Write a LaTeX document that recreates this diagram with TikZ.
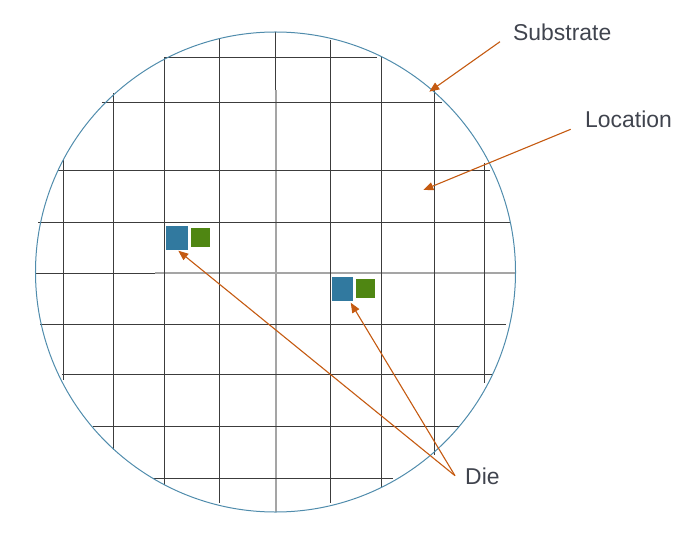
\documentclass[tikz,border=0pt]{standalone}
\usepackage{fontspec}
\setmainfont{Liberation Sans}
\usetikzlibrary{arrows.meta}
\definecolor{gridc}{RGB}{60,60,60}
\definecolor{centc}{RGB}{165,165,165}
\definecolor{waferc}{RGB}{80,140,172}
\definecolor{dieblue}{RGB}{49,121,159}
\definecolor{diegreen}{RGB}{79,134,18}
\definecolor{arrowc}{RGB}{197,90,17}
\definecolor{textc}{RGB}{64,68,78}
\tikzset{
  gridline/.style={draw=gridc, line width=1.6bp},
  centline/.style={draw=centc, line width=2bp},
  pointer/.style={draw=arrowc, line width=1.1bp, -{Triangle[length=10bp,width=8bp]}},
  label/.style={text=textc, font=\fontsize{23}{27}\selectfont, inner sep=0pt, anchor=base west},
  bluedie/.style={fill=dieblue, draw=none, inner sep=0pt},
  greendie/.style={fill=diegreen, draw=none, inner sep=0pt}
}
\begin{document}
\begin{tikzpicture}[x=1bp,y=-1bp]
\useasboundingbox (0,0) rectangle (697,549);
% centre lines
\draw[centline] (276,90) -- (276,512);
\draw[gridline] (275.5,32) -- (275.5,90);
\draw[centline] (155,273) -- (515,273);
\draw[gridline] (35,273.5) -- (155,273.5);
% vertical grid lines
\draw[gridline] (63.5,160) -- (63.5,380);
\draw[gridline] (113.5,93.3) -- (113.5,450);
\draw[gridline] (164.5,57.3) -- (164.5,485);
\draw[gridline] (219.5,39) -- (219.5,503.3);
\draw[gridline] (330.5,40) -- (330.5,503.3);
\draw[gridline] (381.5,56.7) -- (381.5,488.3);
\draw[gridline] (434.5,90) -- (434.5,455);
\draw[gridline] (484.5,162.7) -- (484.5,383.3);
% horizontal grid lines
\draw[gridline] (164.5,57.5) -- (376.7,57.5);
\draw[gridline] (101.7,102.5) -- (442.3,102.5);
\draw[gridline] (58.3,170.5) -- (490,170.5);
\draw[gridline] (38.3,222.5) -- (510,222.5);
\draw[gridline] (40,324.5) -- (506,324.5);
\draw[gridline] (61.7,374.5) -- (493.3,374.5);
\draw[gridline] (93.3,426.5) -- (460,426.5);
\draw[gridline] (153.3,478.5) -- (393.3,478.5);
% wafer
\node[draw=waferc, line width=1bp, circle, minimum size=480bp, inner sep=0pt] (wafer) at (275.5,272) {};
% dies
\node[bluedie, minimum width=22bp, minimum height=24bp] (d1b) at (177,238) {};
\node[greendie, minimum width=19bp, minimum height=19bp] (d1g) at (200.5,237.5) {};
\node[bluedie, minimum width=21bp, minimum height=24bp] (d2b) at (342.2,288.7) {};
\node[greendie, minimum width=19bp, minimum height=19bp] (d2g) at (365.5,288.4) {};
% labels
\node[label] (substrate) at (513,41) {Substrate};
\node[label] (location) at (585,128) {Location};
\node[label] (die) at (465,484) {Die};
% pointer coordinates
\coordinate (s0) at (500,41.7);
\coordinate (s1) at (429.3,91.7);
\coordinate (l0) at (570.7,129.3);
\coordinate (l1) at (423.3,190);
\coordinate (dd) at (455,475.7);
\coordinate (t1) at (178.3,250.7);
\coordinate (t2) at (350.7,302.7);
\draw[pointer] (s0) -- (s1);
\draw[pointer] (l0) -- (l1);
\draw[pointer] (dd) -- (t1);
\draw[pointer] (dd) -- (t2);
\end{tikzpicture}
\end{document}
